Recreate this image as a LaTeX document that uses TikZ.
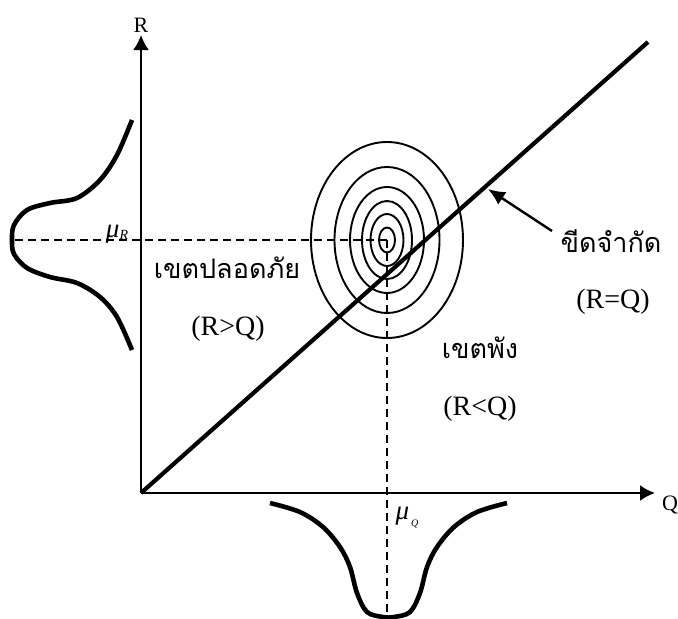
\documentclass[tikz,border=0pt]{standalone}
\usepackage{fontspec}
\usepackage{tikz}
\usetikzlibrary{arrows.meta,calc,positioning}
\setmainfont{Liberation Serif}
\newfontfamily\thaifont[Script=Thai]{Loma}
\newcommand{\zonetext}[1]{{\thaifont\fontsize{27}{30}\selectfont #1}}

\begin{document}
\begin{tikzpicture}[x=1pt, y=-1pt,
    axisline/.style={line width=2.2pt, -{Latex[length=15pt,width=16pt]}},
    limitline/.style={line width=4.2pt},
    distcurve/.style={line width=4.6pt, line cap=butt},
    contour/.style={line width=1.9pt},
    guide/.style={line width=1.9pt, dash pattern=on 8pt off 5pt},
    pointer/.style={line width=2.4pt, -{Latex[length=17pt,width=15pt]}},
    axislabel/.style={font=\fontsize{22}{24}\selectfont, inner sep=0pt, anchor=base},
    zonelabel/.style={font=\fontsize{28}{30}\selectfont, inner sep=0pt, anchor=base}]
    \useasboundingbox (0,0) rectangle (678,619);

    % axes and limit line
    \coordinate (O) at (141,493);
    \coordinate (Rend) at (141,35);
    \coordinate (Qend) at (655,493);
    \coordinate (Lend) at (648,42);
    \draw[axisline] (O) -- (Rend);
    \draw[axisline] (O) -- (Qend);
    \draw[limitline] (O) -- (Lend);
    \node[axislabel] (rlab) at (141,32) {R};
    \node[axislabel] (qlab) at (670,510) {Q};

    % joint density contours
    \coordinate (C) at (387,240);
    \foreach \rx/\ry in {8/12.5,16.5/26,25/39,37/53,52.5/73,76/98}
      \draw[contour] (C) ellipse [x radius=\rx, y radius=\ry];

    % marginal densities
    \coordinate (Rpeak) at (12,240);
    \coordinate (Qpeak) at (387,617);
    \draw[distcurve] plot[smooth, tension=0.55] coordinates {(132,120) (117,155) (100,180) (77,198) (50,203) (27,210) (14,225) (12,240) (14,254) (27,268) (50,277) (77,283) (100,297) (117,317) (132,350)};
    \draw[distcurve] plot[smooth, tension=0.55] coordinates {(270,503) (300,512) (323,527) (340,547) (350,567) (357,593) (367,612) (383,617) (394,617) (410,612) (420,593) (427,567) (437,547) (454,527) (477,512) (507,503)};
    \draw[guide] (C) -- (Rpeak);
    \draw[guide] (C) -- (Qpeak);
    \node[inner sep=0pt, anchor=base] (muR) at (117,237) {\fontsize{27}{28}\selectfont\textit{μ}\raisebox{-2pt}{\fontsize{14}{15}\selectfont\textit{R}}};
    \node[inner sep=0pt, anchor=base] (muQ) at (407,519) {\fontsize{27}{28}\selectfont\textit{μ}\hspace{2pt}\raisebox{-7pt}{\fontsize{10}{11}\selectfont\textit{Q}}};

    % regions
    \node[zonelabel] (safe) at (227,278) {\zonetext{เขตปลอดภัย}};
    \node[zonelabel] (safeeq) at (228,335) {(R>Q)};
    \node[zonelabel] (fail) at (480,358) {\zonetext{เขตพัง}};
    \node[zonelabel] (faileq) at (480,415) {(R<Q)};
    \node[zonelabel] (lim) at (611,252) {\zonetext{ขีดจำกัด}};
    \node[zonelabel] (limeq) at (613,308) {(R=Q)};
    \coordinate (limtail) at (552,231);
    \coordinate (limtip) at (488,189);
    \draw[pointer] (limtail) -- (limtip);
\end{tikzpicture}
\end{document}
